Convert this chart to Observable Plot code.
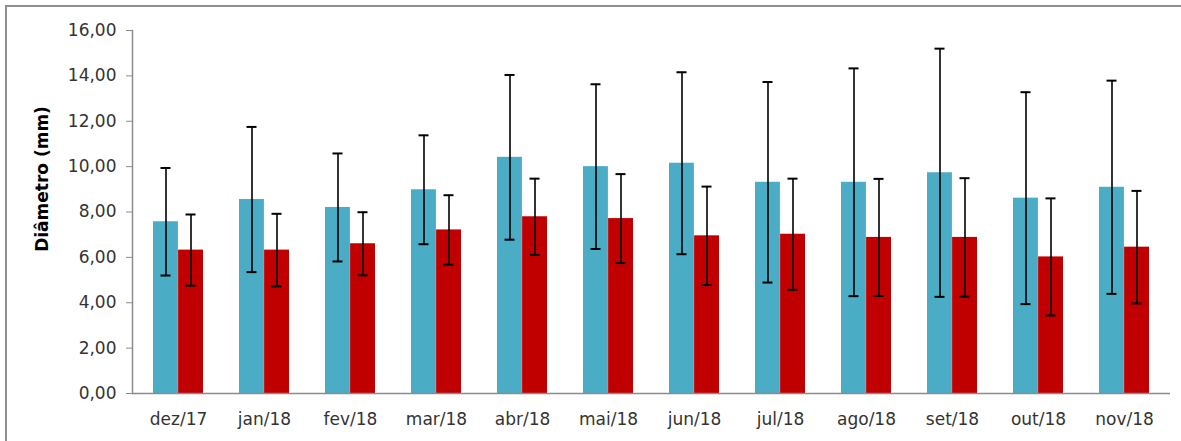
<!DOCTYPE html>
<html>
<head>
<meta charset="utf-8">
<script src="https://cdn.jsdelivr.net/npm/d3@7"></script>
<script src="https://cdn.jsdelivr.net/npm/@observablehq/plot@0.6"></script>
<style>
  html, body { margin: 0; padding: 0; background: #fff; }
  #wrap { position: relative; width: 1181px; height: 441px; overflow: hidden; }
  #border { position: absolute; left: 5px; top: 5px; right: -10px; bottom: -10px; border-left: 2px solid #8f8f8f; border-top: 2px solid #8f8f8f; pointer-events: none; }
  #chart { position: absolute; left: 0; top: 0; }
</style>
</head>
<body>
<div id="wrap"><div id="chart"></div><div id="border"></div></div>
<script>
const months = ["dez/17","jan/18","fev/18","mar/18","abr/18","mai/18","jun/18","jul/18","ago/18","set/18","out/18","nov/18"];
const blueMean = [7.57, 8.55, 8.20, 8.98, 10.41, 10.00, 10.15, 9.31, 9.31, 9.73, 8.61, 9.09];
const blueSd   = [2.37, 3.20, 2.38, 2.40, 3.63, 3.63, 4.01, 4.42, 5.02, 5.47, 4.67, 4.70];
const redMean  = [6.32, 6.32, 6.60, 7.21, 7.79, 7.71, 6.95, 7.02, 6.88, 6.88, 6.02, 6.45];
const redSd    = [1.57, 1.60, 1.39, 1.53, 1.68, 1.96, 2.17, 2.45, 2.58, 2.61, 2.58, 2.48];
const yTicks = [0, 2, 4, 6, 8, 10, 12, 14, 16];
const yTitle = "Diâmetro (mm)";

const rows = months.map((m, i) => ({
  month: m,
  b: blueMean[i], bLo: blueMean[i] - blueSd[i], bHi: blueMean[i] + blueSd[i],
  r: redMean[i], rLo: redMean[i] - redSd[i], rHi: redMean[i] + redSd[i]
}));

const BLUE = "#4BACC6", RED = "#C00000";
const fmt = d => d.toFixed(2).replace(".", ",");

const chart = Plot.plot({
  width: 1181,
  height: 441,
  marginLeft: 132,
  marginRight: 11,
  marginTop: 30,
  marginBottom: 48,
  style: { fontFamily: "DejaVu Sans, sans-serif", background: "transparent" },
  x: { domain: months, paddingInner: 0.42, paddingOuter: 0.21, label: null },
  y: { domain: [0, 16], label: null },
  marks: [
    Plot.barY(rows, { x: "month", y: "b", fill: BLUE, insetRight: 25.1 }),
    Plot.barY(rows, { x: "month", y: "r", fill: RED, insetLeft: 25.1 }),
    Plot.ruleX(rows, { x: "month", y1: "bLo", y2: "bHi", dx: -12.5, stroke: "#000", strokeWidth: 1.6 }),
    Plot.ruleX(rows, { x: "month", y1: "rLo", y2: "rHi", dx: 12.5, stroke: "#000", strokeWidth: 1.6 }),
    Plot.tickY(rows, { x: "month", y: "bHi", insetLeft: 7.5, insetRight: 32.5, stroke: "#000", strokeWidth: 2 }),
    Plot.tickY(rows, { x: "month", y: "bLo", insetLeft: 7.5, insetRight: 32.5, stroke: "#000", strokeWidth: 2 }),
    Plot.tickY(rows, { x: "month", y: "rHi", insetLeft: 32.5, insetRight: 7.5, stroke: "#000", strokeWidth: 2 }),
    Plot.tickY(rows, { x: "month", y: "rLo", insetLeft: 32.5, insetRight: 7.5, stroke: "#000", strokeWidth: 2 }),
    Plot.ruleY([0], { stroke: "#8c8c8c", strokeWidth: 1.5 }),
    Plot.frame({ anchor: "left", stroke: "#8c8c8c", strokeWidth: 1.5 }),
    Plot.axisY({ ticks: yTicks, tickFormat: fmt, tickSize: 6, tickPadding: 10, stroke: "#8c8c8c", fill: "#333", fontSize: 17, label: null }),
    Plot.axisX({ tickSize: 0, tickPadding: 19, fill: "#333", fontSize: 17, label: null }),
    Plot.text([yTitle], { frameAnchor: "left", textAnchor: "middle", rotate: -90, dx: -90, dy: -33, fontSize: 17, fontWeight: "bold", fill: "#000" })
  ]
});
document.getElementById("chart").appendChild(chart);
</script>
</body>
</html>
